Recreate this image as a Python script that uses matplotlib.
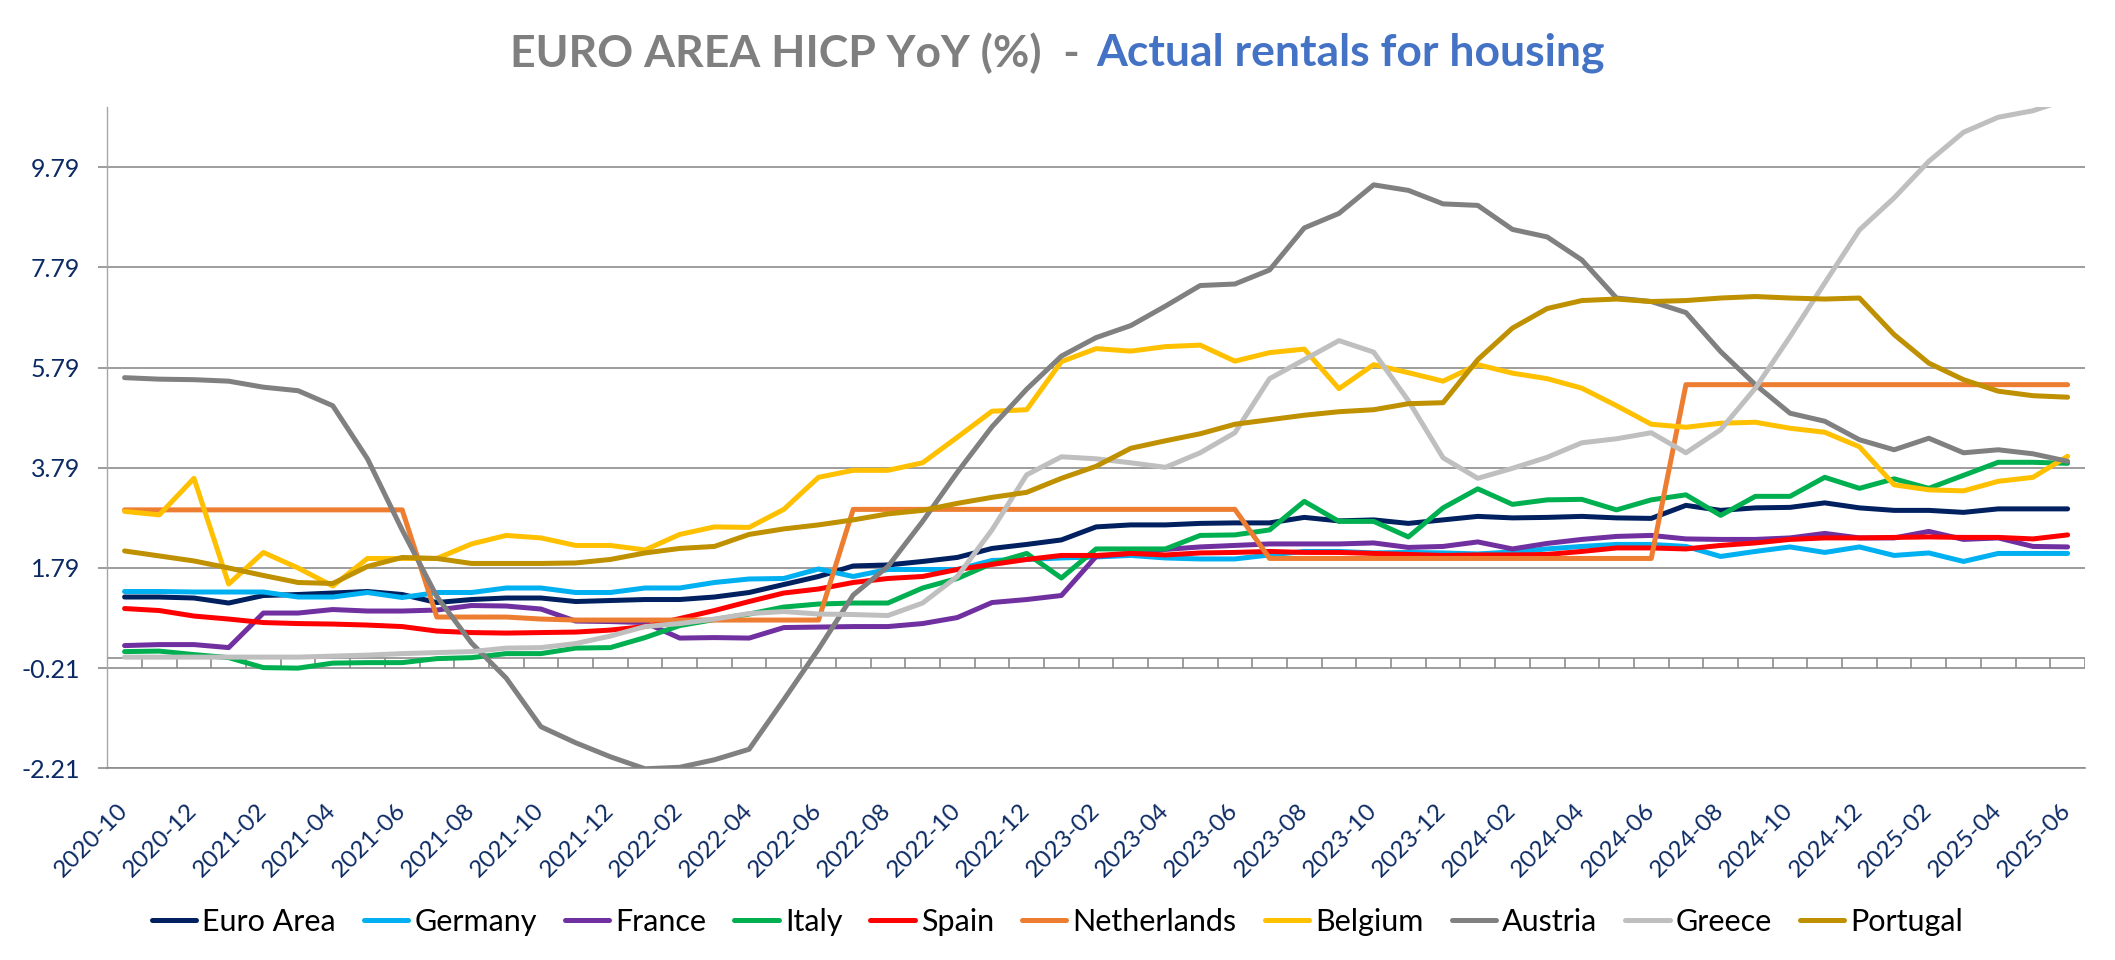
import matplotlib
matplotlib.use("Agg")
import matplotlib.pyplot as plt
import numpy as np

plt.rcParams["font.family"] = ["Lato", "DejaVu Sans"]

# Colour scheme
NAVY = "#0b2a63"
GRID = "#8c8c8c"
TITLE_GRAY = "#7f7f7f"
TITLE_BLUE = "#4472c4"

# months 2020-10 .. 2025-06
months = []
y, m = 2020, 10
while (y, m) <= (2025, 6):
    months.append(f"{y}-{m:02d}")
    m += 1
    if m > 12:
        y, m = y + 1, 1

series_names = ["Euro Area", "Germany", "France", "Italy", "Spain",
                "Netherlands", "Belgium", "Austria", "Greece", "Portugal"]
series_colors = ["#002060", "#00b0f0", "#7030a0", "#00b050", "#ff0000",
                 "#ed7d31", "#ffc000", "#808080", "#bfbfbf", "#bf9000"]

euro_area = [1.21, 1.21, 1.19, 1.09, 1.24, 1.26, 1.29, 1.32, 1.26, 1.10,
             1.16, 1.19, 1.19, 1.12, 1.14, 1.16, 1.16, 1.21, 1.30, 1.46,
             1.62, 1.83, 1.85, 1.92, 2.00, 2.18, 2.26, 2.35, 2.61, 2.65,
             2.65, 2.68, 2.69, 2.69, 2.80, 2.73, 2.75, 2.68, 2.75, 2.82,
             2.79, 2.80, 2.82, 2.79, 2.78, 3.04, 2.94, 2.99, 3.00, 3.09,
             2.99, 2.94, 2.94, 2.90, 2.97, 2.97, 2.97]
germany = [1.32, 1.32, 1.31, 1.31, 1.31, 1.21, 1.21, 1.30, 1.20, 1.30,
           1.30, 1.39, 1.39, 1.30, 1.30, 1.39, 1.39, 1.50, 1.57, 1.58,
           1.77, 1.62, 1.76, 1.76, 1.76, 1.94, 1.96, 1.99, 2.01, 2.04,
           1.99, 1.97, 1.97, 2.05, 2.12, 2.12, 2.09, 2.10, 2.09, 2.07,
           2.11, 2.17, 2.22, 2.26, 2.26, 2.22, 2.02, 2.12, 2.21, 2.10,
           2.21, 2.04, 2.09, 1.92, 2.08, 2.08, 2.08]
france = [0.24, 0.26, 0.26, 0.20, 0.89, 0.89, 0.96, 0.93, 0.93, 0.95,
          1.04, 1.03, 0.97, 0.73, 0.72, 0.70, 0.39, 0.40, 0.39, 0.60,
          0.61, 0.62, 0.62, 0.68, 0.80, 1.10, 1.16, 1.24, 2.02, 2.08,
          2.16, 2.21, 2.24, 2.27, 2.27, 2.27, 2.29, 2.20, 2.22, 2.31,
          2.17, 2.28, 2.36, 2.42, 2.44, 2.37, 2.36, 2.36, 2.39, 2.48,
          2.39, 2.39, 2.52, 2.36, 2.39, 2.22, 2.21]
italy = [0.12, 0.13, 0.06, 0.00, -0.20, -0.21, -0.11, -0.10, -0.10, -0.02,
         0.00, 0.08, 0.08, 0.19, 0.20, 0.40, 0.64, 0.76, 0.87, 1.01,
         1.07, 1.09, 1.09, 1.39, 1.58, 1.88, 2.08, 1.59, 2.17, 2.17,
         2.17, 2.44, 2.45, 2.55, 3.12, 2.72, 2.72, 2.41, 2.99, 3.37,
         3.06, 3.15, 3.16, 2.95, 3.15, 3.25, 2.84, 3.22, 3.22, 3.60,
         3.38, 3.57, 3.38, 3.64, 3.90, 3.90, 3.88]
spain = [0.98, 0.94, 0.83, 0.77, 0.70, 0.68, 0.67, 0.65, 0.62, 0.53,
         0.50, 0.49, 0.50, 0.51, 0.55, 0.62, 0.78, 0.94, 1.12, 1.29,
         1.37, 1.50, 1.58, 1.62, 1.76, 1.86, 1.96, 2.04, 2.04, 2.08,
         2.05, 2.09, 2.10, 2.12, 2.10, 2.10, 2.08, 2.06, 2.04, 2.05,
         2.05, 2.06, 2.12, 2.19, 2.19, 2.17, 2.24, 2.29, 2.36, 2.39,
         2.39, 2.40, 2.41, 2.40, 2.40, 2.37, 2.45]
netherlands = [2.95] * 9 + [0.81, 0.81, 0.81, 0.77] + [0.75] * 8 \
    + [2.96] * 12 + [1.98] * 12 + [5.45] * 12
belgium = [2.92, 2.85, 3.58, 1.47, 2.10, 1.79, 1.43, 1.98, 1.98, 1.98,
           2.27, 2.44, 2.39, 2.24, 2.24, 2.15, 2.46, 2.61, 2.60, 2.96,
           3.60, 3.74, 3.74, 3.89, 4.40, 4.92, 4.95, 5.91, 6.17, 6.12,
           6.21, 6.24, 5.92, 6.09, 6.16, 5.37, 5.85, 5.69, 5.52, 5.85,
           5.68, 5.57, 5.38, 5.03, 4.66, 4.60, 4.68, 4.70, 4.58, 4.50,
           4.21, 3.45, 3.35, 3.33, 3.52, 3.60, 4.02]
austria = [5.59, 5.56, 5.55, 5.52, 5.40, 5.33, 5.03, 3.97, 2.55, 1.22,
           0.29, -0.41, -1.38, -1.70, -1.98, -2.22, -2.19, -2.04, -1.83, -0.84,
           0.17, 1.25, 1.82, 2.72, 3.70, 4.61, 5.36, 6.02, 6.39, 6.63,
           7.02, 7.43, 7.46, 7.74, 8.58, 8.87, 9.44, 9.33, 9.06, 9.03,
           8.55, 8.40, 7.94, 7.18, 7.11, 6.89, 6.11, 5.45, 4.88, 4.72,
           4.35, 4.15, 4.38, 4.09, 4.15, 4.07, 3.92]
greece = [0.01, 0.01, 0.01, 0.01, 0.01, 0.01, 0.03, 0.05, 0.08, 0.10,
          0.12, 0.19, 0.20, 0.28, 0.43, 0.62, 0.68, 0.77, 0.88, 0.92,
          0.87, 0.86, 0.84, 1.09, 1.62, 2.55, 3.65, 4.01, 3.97, 3.89,
          3.80, 4.09, 4.49, 5.57, 5.95, 6.33, 6.10, 5.13, 3.99, 3.58,
          3.78, 4.00, 4.29, 4.37, 4.49, 4.09, 4.55, 5.38, 6.41, 7.48,
          8.54, 9.18, 9.91, 10.49, 10.79, 10.92, 11.15]
portugal = [2.13, 2.03, 1.93, 1.79, 1.64, 1.50, 1.48, 1.82, 2.00, 1.98,
            1.88, 1.88, 1.88, 1.89, 1.96, 2.09, 2.18, 2.22, 2.46, 2.57,
            2.65, 2.75, 2.87, 2.94, 3.08, 3.20, 3.30, 3.58, 3.82, 4.18,
            4.33, 4.47, 4.66, 4.75, 4.84, 4.91, 4.95, 5.07, 5.09, 5.95,
            6.58, 6.97, 7.13, 7.16, 7.11, 7.13, 7.18, 7.21, 7.18, 7.16,
            7.18, 6.45, 5.88, 5.55, 5.32, 5.23, 5.20]

series_values = [euro_area, germany, france, italy, spain,
                 netherlands, belgium, austria, greece, portugal]

y_ticks = [-2.21, -0.21, 1.79, 3.79, 5.79, 7.79, 9.79]
y_top = 10.99

fig = plt.figure(figsize=(21.15, 9.6), dpi=100)
ax = fig.add_axes([0.0507, 0.1997, 0.9351, 0.6886])

x = np.arange(len(months))
for name, vals, color in zip(series_names, series_values, series_colors):
    ax.plot(x, vals, color=color, lw=3.6, label=name,
            solid_joinstyle="round", solid_capstyle="round", zorder=3)

ax.set_xlim(-0.5, len(months) - 0.5)
ax.set_ylim(y_ticks[0], y_top)

# y axis
ax.set_yticks(y_ticks)
ax.set_yticklabels([f"{v:.2f}" for v in y_ticks])
ax.yaxis.grid(True, color=GRID, lw=1.2)
ax.set_axisbelow(True)
ax.tick_params(axis="y", length=6.5, width=1.2, color=GRID, pad=13,
               labelsize=18, labelcolor=NAVY)

# x axis: labels at the bottom, axis line drawn at zero
ax.set_xticks(x[::2])
ax.set_xticklabels(months[::2], rotation=45, ha="right", rotation_mode="anchor")
for lab in ax.get_xticklabels():
    lab.set_va("center")
ax.tick_params(axis="x", length=0, pad=28, labelsize=17.5, labelcolor=NAVY)

ax.axhline(0, color=GRID, lw=1.2, zorder=2)
ax.vlines(np.arange(0.5, len(months), 1), -0.2, 0, color=GRID, lw=1.2, zorder=2)

for side in ["top", "right"]:
    ax.spines[side].set_visible(False)
ax.spines["bottom"].set_color(GRID)
ax.spines["bottom"].set_linewidth(1.2)
ax.spines["left"].set_color("#a6a6a6")
ax.spines["left"].set_linewidth(1.0)

# legend
handles, labels = ax.get_legend_handles_labels()
fig.legend(handles, labels, loc="center", bbox_to_anchor=(0.5, 0.04), ncol=10,
           frameon=False, fontsize=22, handlelength=1.45, handletextpad=0.2,
           columnspacing=0.92)

# two-colour title
renderer = fig.canvas.get_renderer()
t1 = fig.text(0, 0.945, "EURO AREA HICP YoY (%)  -", color=TITLE_GRAY,
              fontsize=32, fontweight="bold", va="center")
t2 = fig.text(0, 0.945, "Actual rentals for housing", color=TITLE_BLUE,
              fontsize=32, fontweight="bold", va="center")
w1 = t1.get_window_extent(renderer).width
w2 = t2.get_window_extent(renderer).width
gap = 16
x0 = (fig.bbox.width - (w1 + gap + w2)) / 2
t1.set_x(x0 / fig.bbox.width)
t2.set_x((x0 + w1 + gap) / fig.bbox.width)

fig.savefig("out.png", dpi=100)
